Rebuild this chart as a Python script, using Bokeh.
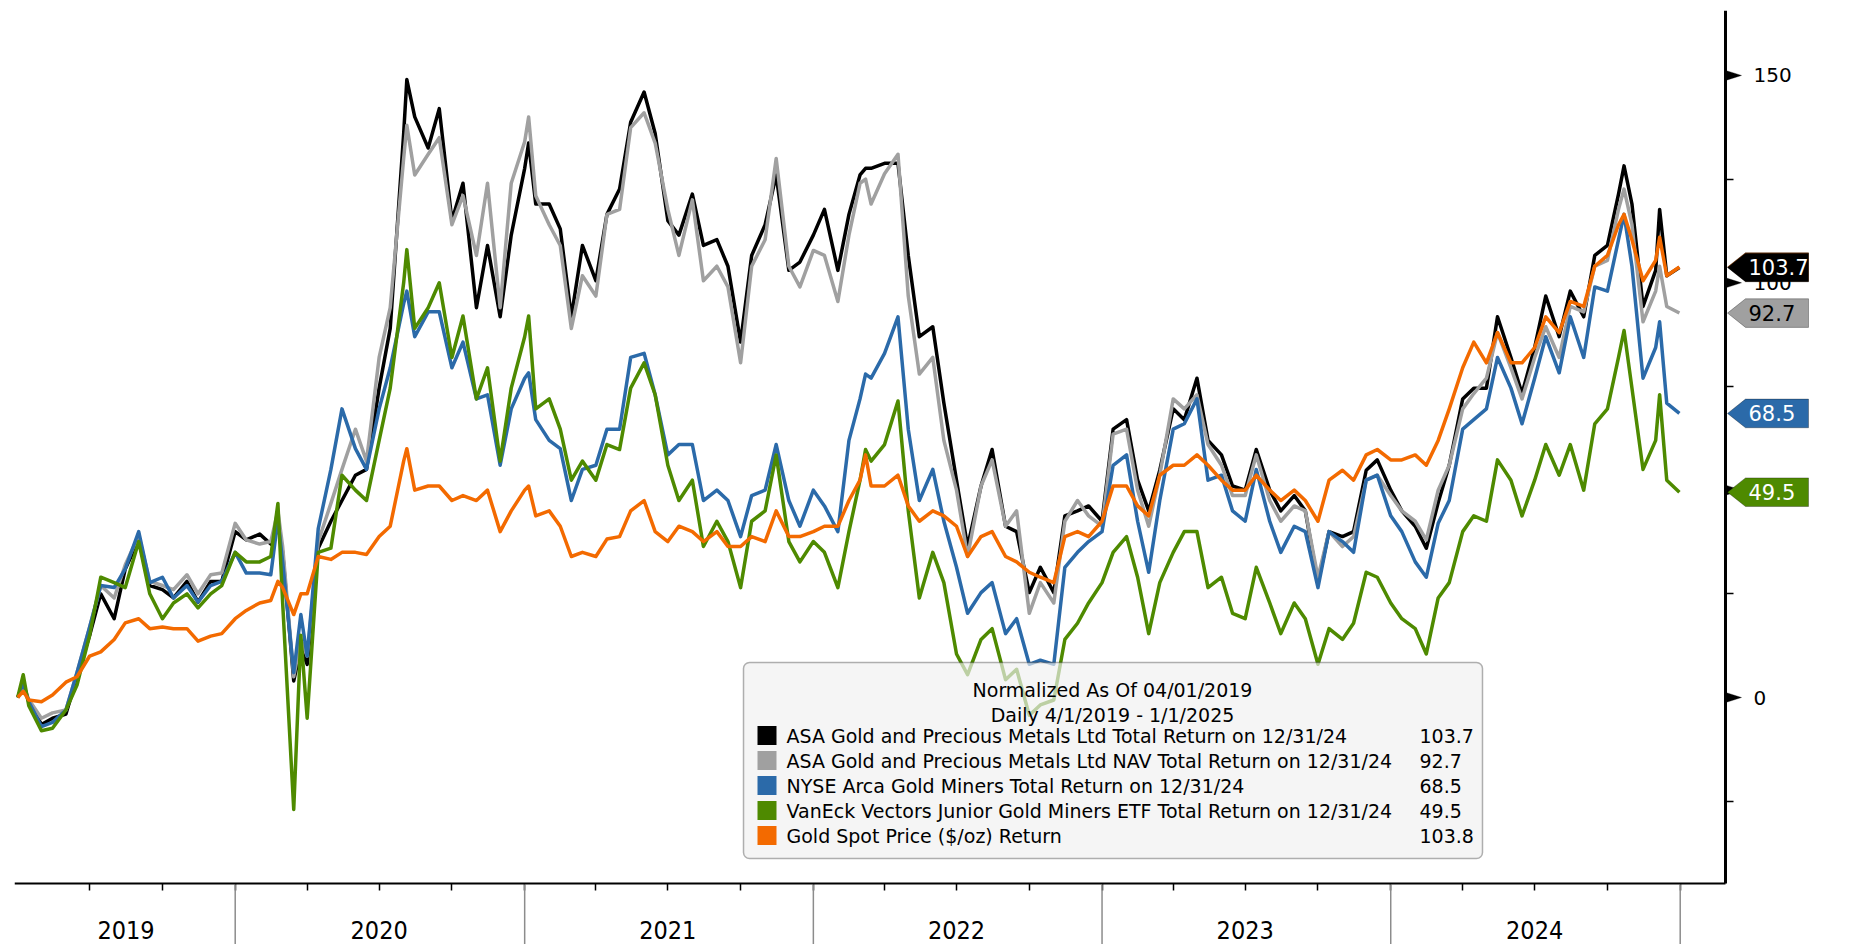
import pandas as pd
from bokeh.plotting import figure
from bokeh.models import (Range1d, FixedTicker, CustomJSTickFormatter, PolyAnnotation, LinearAxis,
                          DatetimeAxis, Label, BoxAnnotation, Arrow, ColumnDataSource)
from bokeh.embed import file_html
from bokeh.resources import INLINE

# ---------------- data ----------------
dates = [
    # 2019
    "2019-04-01", "2019-04-08", "2019-04-15", "2019-05-01", "2019-05-15", "2019-06-01", "2019-06-15",
    "2019-07-01", "2019-07-15", "2019-08-01", "2019-08-15", "2019-09-01", "2019-09-15", "2019-10-01",
    "2019-10-15", "2019-11-01", "2019-11-15", "2019-12-01", "2019-12-15",
    # 2020
    "2020-01-01", "2020-01-15", "2020-02-01", "2020-02-15", "2020-02-24", "2020-03-01", "2020-03-15",
    "2020-03-24", "2020-04-01", "2020-04-15", "2020-05-01", "2020-05-15", "2020-06-01", "2020-06-15",
    "2020-07-01", "2020-07-15", "2020-08-01", "2020-08-05", "2020-08-15", "2020-09-01", "2020-09-15",
    "2020-10-01", "2020-10-15", "2020-11-01", "2020-11-15", "2020-12-01", "2020-12-15",
    # 2021
    "2021-01-01", "2021-01-06", "2021-01-15", "2021-02-01", "2021-02-15", "2021-03-01", "2021-03-15",
    "2021-04-01", "2021-04-15", "2021-05-01", "2021-05-15", "2021-06-01", "2021-06-15", "2021-07-01",
    "2021-07-15", "2021-08-01", "2021-08-15", "2021-09-01", "2021-09-15", "2021-10-01", "2021-10-15",
    "2021-11-01", "2021-11-15", "2021-12-01", "2021-12-15",
    # 2022
    "2022-01-01", "2022-01-15", "2022-02-01", "2022-02-15", "2022-03-01", "2022-03-08", "2022-03-15",
    "2022-04-01", "2022-04-18", "2022-05-01", "2022-05-15", "2022-06-01", "2022-06-15", "2022-07-01",
    "2022-07-15", "2022-08-01", "2022-08-15", "2022-09-01", "2022-09-15", "2022-10-01", "2022-10-15",
    "2022-11-01", "2022-11-15", "2022-12-01", "2022-12-15",
    # 2023
    "2023-01-01", "2023-01-15", "2023-02-01", "2023-02-15", "2023-03-01", "2023-03-15", "2023-04-01",
    "2023-04-15", "2023-05-01", "2023-05-15", "2023-06-01", "2023-06-15", "2023-07-01", "2023-07-15",
    "2023-08-01", "2023-08-15", "2023-09-01", "2023-09-15", "2023-10-01", "2023-10-15", "2023-11-01",
    "2023-11-15", "2023-12-01", "2023-12-15",
    # 2024
    "2024-01-01", "2024-01-15", "2024-02-01", "2024-02-15", "2024-03-01", "2024-03-15", "2024-04-01",
    "2024-04-15", "2024-05-01", "2024-05-15", "2024-06-01", "2024-06-15", "2024-07-01", "2024-07-15",
    "2024-08-01", "2024-08-15", "2024-09-01", "2024-09-15", "2024-10-01", "2024-10-15", "2024-10-22",
    "2024-11-01", "2024-11-15", "2024-12-01", "2024-12-06", "2024-12-15", "2024-12-31",
]

asa_total_return = [
    0, 3, -1, -6.5, -5, -4, 5, 15, 25, 19, 31, 38, 27, 26, 24, 28, 23, 28, 28,
    40, 38, 39.4, 37, 42.5, 35, 4, 12, 8, 36, 42.5, 47.5, 53.6, 55, 74.6, 89, 136, 149, 140, 132.5,
    142, 115, 124, 94, 109, 91.8, 111.5,
    127.6, 133.7, 119, 119, 113, 91.8, 109, 100.5, 116.5, 122.6, 138.7, 146, 136, 115, 111.5, 121.4,
    109, 110.4, 104, 85.7, 106.6, 114, 126, 103, 105,
    111.5, 117.7, 103, 116.5, 126, 127.6, 127.6, 128.8, 128.8, 106.6, 87, 89.4, 71, 52.4, 36.4, 51,
    59.8, 41.3, 40, 25.3, 31.4, 25.3, 43.8, 45, 46.2,
    42.5, 64.7, 67, 52.4, 45, 54.8, 69.6, 67, 77, 62, 58.5, 51, 50, 59.8, 50, 45, 48.7, 45, 27.7, 40,
    38.8, 40, 54.8, 57.3,
    50, 45, 41.3, 36, 47, 56, 72, 74.6, 74.6, 91.8, 82, 73.3, 84.4, 96.8, 87, 98, 91.8, 106.6, 109,
    121.4, 128.2, 119, 94.3, 103, 117.7, 101.7, 103.7,
]

asa_nav_return = [
    0, 3, -0.5, -5, -3.7, -3, 6, 17, 27, 24, 32, 39, 28, 27, 26, 29.6, 25, 29.6, 30,
    42, 38, 37, 37.6, 45, 36.4, 5, 14, 10, 37.6, 46.8, 55, 64.7, 57, 82, 94, 130, 138, 126, 131, 135,
    114, 121, 106.6, 124, 94, 124,
    134, 140, 121, 114, 109, 89, 101.7, 96.8, 116.5, 117.7, 137.4, 141, 133.7, 117.7, 106.6, 120,
    100.5, 104, 99, 80.7, 104, 110.4, 130, 104, 99,
    107.8, 106.6, 95.5, 111.5, 124, 125, 119, 126.3, 131, 96.8, 78, 82, 62, 50, 34, 51, 57.3, 41.3,
    45, 20.3, 27.7, 22.8, 42.5, 47.5, 43.8,
    41.3, 63.5, 64.7, 50, 41.3, 53.6, 72, 69.6, 73, 61, 56, 48.7, 48.7, 58.5, 47.5, 42.5, 46.2, 45,
    29, 40, 36.4, 38.8, 52.4, 53.6,
    48.7, 45, 42.5, 38, 50, 56, 69.6, 73.3, 77, 88, 79.5, 72, 82, 89.4, 82, 94.3, 93, 104, 105.4,
    117.7, 122.6, 114, 90.6, 98, 104, 94.3, 92.7,
]

nyse_arca_gold_miners = [
    0, 3.5, -1, -7, -6, -3, 6, 17, 27, 26.5, 31, 40, 27.7, 29, 24, 27, 23, 27, 28,
    35, 30, 30, 29.6, 43, 32.7, 6, 20, 10, 40.7, 55, 69.6, 60, 55, 69.6, 79.5, 95, 98, 87, 93, 93,
    79.5, 85.7, 72, 73, 56, 69.6,
    77, 78.3, 67, 62, 60, 47.5, 55, 56, 64.7, 64.7, 82, 83, 73, 58.5, 61, 61, 47.5, 50, 47.5, 38.8,
    48.7, 50, 61, 47.5, 41.3,
    50, 46.2, 40, 62, 72, 78, 77, 83, 91.8, 64.7, 47.5, 55, 42.5, 31.4, 20.3, 25.3, 27.7, 15.4, 19,
    8, 9, 8, 31.4, 35, 37.6,
    40, 56, 58.5, 42.5, 30.2, 47.5, 64.7, 66, 72, 52.4, 53.6, 45, 42.5, 55, 42.5, 35, 41.3, 40, 26.5,
    40, 37.6, 35, 52.4, 53.6,
    43.8, 40, 32.7, 29, 42, 47.5, 64.7, 67, 69.6, 82, 74.6, 66, 77, 87, 78.3, 91.8, 82, 99, 98,
    110.4, 116.5, 104, 77, 84.4, 90.6, 71, 68.5,
]

vaneck_junior_miners = [
    0, 5.5, -2, -8, -7.4, -3, 3, 15, 29, 27.7, 26.5, 37.6, 25, 19, 22.8, 25, 21.6, 25, 27,
    35, 32.7, 32.7, 34, 46.8, 22.8, -27, 15, -5, 35, 36, 53.6, 50, 47.5, 62, 74.6, 100, 108, 89, 94,
    100, 82, 92, 72, 79.5, 57, 74.6,
    87, 92, 69.6, 72, 64.7, 52.4, 57, 52.4, 61, 59.8, 74.6, 80.7, 73, 56, 47.5, 52.4, 36.4, 42.5,
    37.6, 26.5, 42.5, 45, 58.5, 37.6, 32.7,
    37.6, 35, 26.5, 40, 52.4, 59.8, 57, 61, 71.5, 45, 24, 35, 27.7, 10.5, 5.5, 14, 16.6, 4.3, 6.8,
    -4.3, -1.8, -0.6, 14, 17.9, 22.8,
    27.7, 35, 38.8, 29, 15.4, 27.7, 35, 40, 40, 26.5, 29, 20.3, 19, 31.4, 22.8, 15.4, 22.8, 19, 8,
    16.6, 14, 17.9, 30.2, 29,
    22.8, 19, 16.6, 10.5, 24, 27.7, 40, 43.8, 42.5, 57.3, 52.4, 43.8, 52.4, 61, 53.6, 61, 50, 66,
    69.6, 82, 88.5, 74.6, 55, 62, 73, 52.4, 49.5,
]

gold_spot_return = [
    0, 1.5, -0.6, -1, 0.6, 3.7, 5, 10, 11, 14, 18, 19, 16.6, 17, 16.6, 16.6, 13.6, 14.8, 15.4,
    19, 21, 22.8, 23.4, 28, 26.5, 20, 25, 25, 34, 33.3, 35, 35, 34.5, 38.8, 41.3, 57, 60, 50, 51, 51,
    47.5, 48.7, 47.5, 50, 40, 45,
    50, 51, 43.8, 45, 41.3, 34, 35, 34, 38.2, 38.8, 45, 47.5, 40, 37.6, 41.3, 40, 37.6, 40, 36.4,
    36.4, 38.8, 37.6, 45, 38.8, 38.8,
    40, 41.3, 41.3, 47.5, 52.4, 58.5, 51, 51, 53.6, 46.2, 42.5, 45, 43.8, 41.3, 34, 38.8, 40, 34,
    32.7, 30.2, 29, 27.7, 38.8, 40, 38.8,
    42.5, 51, 51, 46.2, 43.8, 53.6, 56, 56, 58.5, 56, 52.4, 50, 50, 53.6, 50, 47.5, 50, 47.5, 42.5,
    52.4, 54.8, 52.4, 58.5, 59.8,
    57.3, 57.3, 58.5, 56, 62, 69.6, 79.5, 85.7, 80.7, 88, 80.7, 80.7, 84.4, 91.8, 88, 95.5, 94.3,
    104, 106.6, 114, 116.5, 110.4, 100.5, 105.4, 111, 101.7, 103.8,
]

series_labels = [
    "ASA Gold and Precious Metals Ltd Total Return on 12/31/24",
    "ASA Gold and Precious Metals Ltd NAV Total Return on 12/31/24",
    "NYSE Arca Gold Miners Total Return on 12/31/24",
    "VanEck Vectors Junior Gold Miners ETF Total Return on 12/31/24",
    "Gold Spot Price ($/oz) Return",
]
last_values = ["103.7", "92.7", "68.5", "49.5", "103.8"]
legend_title = ["Normalized As Of 04/01/2019", "Daily 4/1/2019 - 1/1/2025"]
year_label_dates = ["2019-08-16", "2020-07-01", "2021-07-01", "2022-07-01", "2023-07-01", "2024-07-01"]
year_boundaries = ["2020-01-01", "2021-01-01", "2022-01-01", "2023-01-01", "2024-01-01", "2025-01-01"]
quarter_starts = ["2019-07-01", "2019-10-01"] + [f"{y}-{m:02d}-01" for y in range(2020, 2025) for m in (4, 7, 10)]
y_major = [0, 50, 100, 150]
y_minor = [-25, 25, 75, 125]

# ---------------- styling ----------------
colors = ["#000000", "#a0a0a0", "#2b6aa9", "#4e8a00", "#f36a00"]
tag_text_colors = ["white", "black", "white", "white", "white"]
keys = ["asa", "nav", "gdm", "gdxj", "gold"]
W, H = 1866, 944


def ms(d):
    return pd.Timestamp(d).value / 1e6


T2020 = ms("2020-01-01")
T2025 = ms("2025-01-01")
MS_PER_PX = (T2025 - T2020) / (1679.7 - 234.7)


def px2x(px):
    return T2020 + (px - 234.7) * MS_PER_PX


def py2v(py):
    return (697.0 - py) / 4.147


src = ColumnDataSource(dict(
    date=pd.to_datetime(dates),
    asa=asa_total_return, nav=asa_nav_return, gdm=nyse_arca_gold_miners,
    gdxj=vaneck_junior_miners, gold=gold_spot_return,
))

p = figure(width=W, height=H, x_axis_location=None, y_axis_location=None,
           x_range=Range1d(px2x(14), px2x(W)), y_range=Range1d(py2v(H), py2v(10)),
           output_backend="svg", toolbar_location=None,
           min_border_left=14, min_border_right=0, min_border_top=10, min_border_bottom=0)
p.xgrid.visible = False
p.ygrid.visible = False
p.outline_line_color = None
p.background_fill_color = "white"

# x axis (drawn at the reference position of the date axis)
xa = DatetimeAxis(fixed_location=py2v(883), bounds=(px2x(14), px2x(1725)))
xa.ticker = FixedTicker(ticks=[ms(d) for d in year_label_dates],
                        minor_ticks=[ms(d) for d in quarter_starts + year_boundaries])
xa.formatter = CustomJSTickFormatter(code="return String(new Date(tick).getUTCFullYear())")
xa.axis_line_color = "black"
xa.axis_line_width = 2
xa.major_tick_in = 0
xa.major_tick_out = 0
xa.minor_tick_in = 0
xa.minor_tick_out = 7
xa.minor_tick_line_width = 1.5
xa.minor_tick_line_color = "black"
xa.major_label_standoff = 30
xa.major_label_text_font = "DejaVu Sans Condensed"
xa.major_label_text_font_size = "25px"
xa.major_label_text_color = "black"
p.add_layout(xa, "below")

# y axis on the right
ya = LinearAxis(fixed_location=px2x(1725), bounds=(py2v(883), py2v(10)))
ya.ticker = FixedTicker(ticks=y_major, minor_ticks=y_minor)
ya.axis_line_color = "black"
ya.axis_line_width = 3
ya.major_tick_in = 0
ya.major_tick_out = 0
ya.minor_tick_in = 0
ya.minor_tick_out = 8
ya.minor_tick_line_width = 1.5
ya.minor_tick_line_color = "black"
ya.major_label_standoff = 20
ya.major_label_text_font = "DejaVu Sans"
ya.major_label_text_font_size = "20px"
ya.major_label_text_color = "black"
p.add_layout(ya, "right")

# lines
for k, c in zip(keys, colors):
    p.line(x="date", y=k, source=src, line_color=c, line_width=3.5, line_join="round")

# year separators under the date axis
for d in year_boundaries:
    p.add_layout(Arrow(end=None, x_start=ms(d), y_start=py2v(884), x_end=ms(d), y_end=py2v(960),
                       line_color="#8c8c8c", line_width=1.5))

# triangle markers at major y ticks
for t in y_major:
    p.add_layout(PolyAnnotation(xs=[px2x(1726), px2x(1741), px2x(1726)], ys=[t + 1.15, t, t - 1.15],
                                fill_color="black", fill_alpha=1, line_color="black", line_width=1))

# last value tags (gold first so that it sits underneath)
half = 3.45
for i in [4, 0, 1, 2, 3]:
    v = float(last_values[i])
    p.add_layout(PolyAnnotation(
        xs=[px2x(1727), px2x(1745), px2x(1808), px2x(1808), px2x(1745)],
        ys=[v, v + half, v + half, v - half, v - half],
        fill_color=colors[i], fill_alpha=1, line_color="black", line_width=1))
    p.add_layout(Label(x=px2x(1748), y=v, text=last_values[i], text_align="left", text_baseline="middle",
                       text_font="DejaVu Sans", text_font_size="21px", text_color=tag_text_colors[i]))

# legend box
p.add_layout(BoxAnnotation(left=px2x(743), right=px2x(1482), top=py2v(662), bottom=py2v(858),
                           fill_color="#f0f0f0", fill_alpha=0.68, line_color="black", line_width=1.5,
                           border_radius=6))
for yy, t in zip([689, 714], legend_title):
    p.add_layout(Label(x=px2x(1112), y=py2v(yy), text=t, text_align="center", text_baseline="middle",
                       text_font="DejaVu Sans", text_font_size="19px", text_color="black"))
for i, (lab, val) in enumerate(zip(series_labels, last_values)):
    yc = 735 + 25 * i
    p.add_layout(BoxAnnotation(left=px2x(757), right=px2x(776), top=py2v(yc - 9.5), bottom=py2v(yc + 9.5),
                               fill_color=colors[i], fill_alpha=1, line_color=None))
    p.add_layout(Label(x=px2x(786), y=py2v(yc), text=lab, text_align="left", text_baseline="middle",
                       text_font="DejaVu Sans", text_font_size="19px", text_color="black"))
    p.add_layout(Label(x=px2x(1419), y=py2v(yc), text=val, text_align="left", text_baseline="middle",
                       text_font="DejaVu Sans", text_font_size="19px", text_color="black"))

open("out.html", "w").write(file_html(p, INLINE))
